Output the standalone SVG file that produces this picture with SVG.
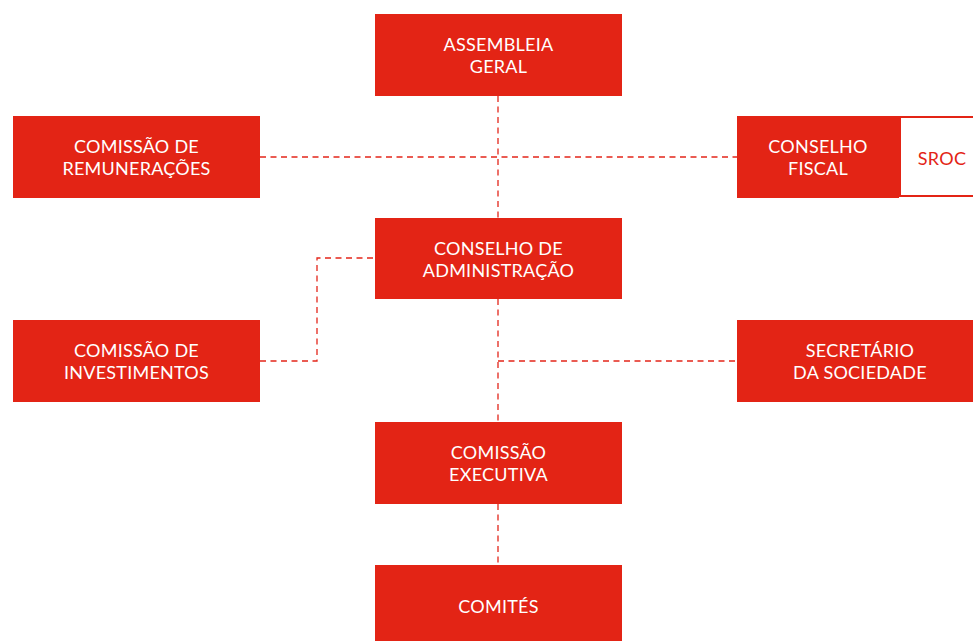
<svg xmlns="http://www.w3.org/2000/svg" width="973" height="641" viewBox="0 0 973 641">
<style>
.box{fill:#E32415;}
.t{font-family:Lato,"Noto Sans","Liberation Sans",sans-serif;font-size:18px;letter-spacing:0.25px;fill:#FFFFFF;text-anchor:middle;}
.tr{font-family:Lato,"Noto Sans","Liberation Sans",sans-serif;font-size:18px;letter-spacing:0.25px;fill:#E32415;text-anchor:middle;}
.c{fill:none;stroke:#E3261A;stroke-width:1.3;stroke-dasharray:6 4.5;}
</style>
<rect width="973" height="641" fill="#FFFFFF"/>
<g id="connectors">
<path class="c" d="M498 96V218"/>
<path class="c" d="M260 157H737"/>
<path class="c" d="M373 258H317V361H260"/>
<path class="c" d="M498 299V422"/>
<path class="c" d="M498 361H737"/>
<path class="c" d="M498 504V565"/>
</g>
<g id="assembleia">
<rect class="box" x="375" y="14" width="247" height="82"/>
<text class="t" x="498.5" y="51">ASSEMBLEIA</text>
<text class="t" x="498.5" y="73">GERAL</text>
</g>
<g id="remuneracoes">
<rect class="box" x="13" y="116" width="247" height="82"/>
<text class="t" x="136.5" y="153">COMISSÃO DE</text>
<text class="t" x="136.5" y="175">REMUNERAÇÕES</text>
</g>
<g id="fiscal">
<rect class="box" x="737" y="116" width="162" height="82"/>
<text class="t" x="818" y="153">CONSELHO</text>
<text class="t" x="818" y="175">FISCAL</text>
</g>
<g id="sroc">
<rect x="900" y="117" width="75" height="79" fill="#FFFFFF" stroke="#E32415" stroke-width="2"/>
<text class="tr" x="942" y="165">SROC</text>
</g>
<g id="administracao">
<rect class="box" x="375" y="218" width="247" height="81"/>
<text class="t" x="498.5" y="255">CONSELHO DE</text>
<text class="t" x="498.5" y="277">ADMINISTRAÇÃO</text>
</g>
<g id="investimentos">
<rect class="box" x="13" y="320" width="247" height="82"/>
<text class="t" x="136.5" y="357">COMISSÃO DE</text>
<text class="t" x="136.5" y="379">INVESTIMENTOS</text>
</g>
<g id="secretario">
<rect class="box" x="737" y="320" width="236" height="82"/>
<text class="t" x="860" y="357">SECRETÁRIO</text>
<text class="t" x="860" y="379">DA SOCIEDADE</text>
</g>
<g id="executiva">
<rect class="box" x="375" y="422" width="247" height="82"/>
<text class="t" x="498.5" y="459">COMISSÃO</text>
<text class="t" x="498.5" y="481">EXECUTIVA</text>
</g>
<g id="comites">
<rect class="box" x="375" y="565" width="247" height="76"/>
<text class="t" x="498.5" y="613">COMITÉS</text>
</g>
</svg>
